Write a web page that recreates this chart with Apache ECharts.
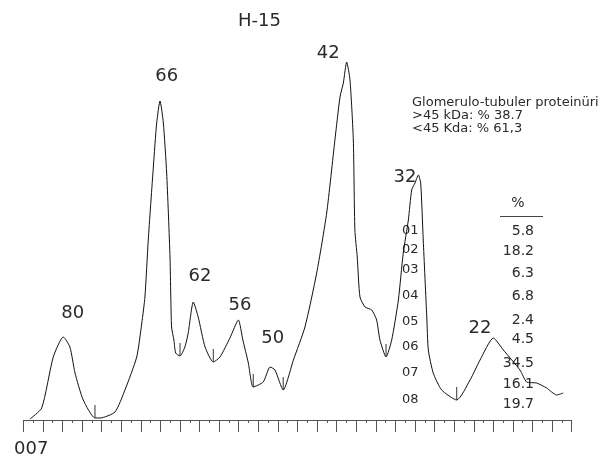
<!DOCTYPE html>
<html>
<head>
<meta charset="utf-8">
<script src="https://cdn.jsdelivr.net/npm/echarts@6/dist/echarts.min.js"></script>
<style>html,body{margin:0;padding:0;background:#fff}#c{width:604px;height:462px}</style>
</head>
<body>
<div id="c"></div>
<script>
// densitometry trace: [position, intensity]
const trace = [
  [0.34,1],[0.94,12],[1.53,63],[2.04,83],[2.38,73],[2.64,47],[3.06,20],[3.66,2],[3.92,2],
  [4.68,8],[5.19,30],[5.79,63],[6.05,97],[6.21,123],[6.38,180],[6.64,253],[6.81,297],[6.98,319],
  [7.15,297],[7.32,247],[7.49,163],[7.57,93],[7.69,80],[7.78,67],[8.00,64],[8.25,73],[8.42,87],
  [8.68,118],[8.93,103],[9.28,73],[9.70,58],[10.04,63],[10.55,82],[10.98,100],[11.21,80],[11.49,57],
  [11.74,33],[12.25,38],[12.60,53],[12.85,50],[13.27,30],[13.79,60],[14.38,93],[14.98,147],[15.49,207],
  [15.91,280],[16.17,323],[16.34,337],[16.51,358],[16.68,340],[16.85,280],[16.93,190],[17.05,163],
  [17.19,123],[17.45,113],[17.79,110],[18.04,100],[18.21,80],[18.52,63],[18.81,80],[19.15,120],
  [19.40,167],[19.66,200],[19.83,230],[20.00,237],[20.17,245],[20.29,237],[20.42,180],[20.60,103],
  [20.68,70],[20.93,47],[21.36,30],[22.13,20],[22.81,40],[23.32,60],[24.00,82],[24.51,70],[25.36,50],
  [25.70,38],[26.21,37],[26.72,32],[27.23,25],[27.57,27]
];
// fraction boundaries (valleys)
const valleys = [[3.66,2],[8.00,64],[9.70,58],[11.74,33],[13.27,30],[18.52,63],[22.13,20]];
// peak labels (kDa) with label anchor
const peakNames = ['80','66','62','56','50','42','32','22'];
const peakAnchors = [[2.52,107],[7.32,344],[9.02,144],[11.06,115],[12.73,82],[15.57,367],[19.49,243],[23.32,92]];
const fractionCodes = ['01','02','03','04','05','06','07','08'];
const fractionPercents = ['5.8','18.2','6.3','6.8','2.4','4.5','34.5','16.1','19.7'];
const infoLines = ['Glomerulo-tubuler proteinüri','>45 kDa: % 38.7','<45 Kda: % 61,3'];
const title = 'H-15';
const startLabel = '007';

// layout (pixel positions of free text)
const codeY = [231,250,270,296,322,347,373,400];
const pctY = [231,251,273,296,320,339,363,384,404];
const infoY = [103,116,129];

const FONT = 'DejaVu Sans';
const TXT = '#2a2a2a';
const graphics = [];
graphics.push({type:'text', left:238, top:12, style:{text:title, font:'18px "'+FONT+'"', fill:TXT}});
graphics.push({type:'text', left:14, top:440, style:{text:startLabel, font:'18px "'+FONT+'"', fill:TXT}});
infoLines.forEach((t,i)=>graphics.push({type:'text', x:412, y:infoY[i], style:{text:t, font:'13px "'+FONT+'"', fill:TXT, verticalAlign:'middle', align:'left'}}));
fractionCodes.forEach((t,i)=>graphics.push({type:'text', x:402, y:codeY[i], style:{text:t, font:'13px "'+FONT+'"', fill:TXT, verticalAlign:'middle', align:'left'}}));
fractionPercents.forEach((t,i)=>graphics.push({type:'text', x:534, y:pctY[i], style:{text:t, font:'14px "'+FONT+'"', fill:TXT, verticalAlign:'middle', align:'right'}}));
graphics.push({type:'text', x:518, y:203, style:{text:'%', font:'14px "'+FONT+'"', fill:TXT, verticalAlign:'middle', align:'center'}});
graphics.push({type:'line', shape:{x1:500, y1:216.5, x2:543, y2:216.5}, style:{stroke:'#444', lineWidth:1}});

const chart = echarts.init(document.getElementById('c'), null, {renderer:'canvas'});
chart.setOption({
  animation:false,
  backgroundColor:'#fff',
  grid:{left:23.3, right:32.3, top:20, bottom:42},
  xAxis:{
    type:'value', min:0, max:28, interval:1,
    axisLine:{show:true, lineStyle:{color:'#555', width:1}},
    axisTick:{show:true, length:12, lineStyle:{color:'#555', width:1}},
    minorTick:{show:true, splitNumber:2, length:3, lineStyle:{color:'#555', width:1}},
    axisLabel:{show:false}, splitLine:{show:false}, minorSplitLine:{show:false}
  },
  yAxis:{type:'value', min:0, max:400, show:false, splitLine:{show:false}},
  series:[
    {type:'line', data:trace, showSymbol:false, smooth:0.2, lineStyle:{color:'#111', width:1}, z:3},
    {type:'custom', data:valleys, z:4,
      renderItem:function(params, api){
        const p = api.coord([api.value(0), api.value(1)]);
        return {type:'line', shape:{x1:p[0], y1:p[1], x2:p[0], y2:p[1]-13}, style:{stroke:'#333', lineWidth:1}};
      }},
    {type:'scatter', symbolSize:0, z:5, itemStyle:{opacity:1},
      data:peakAnchors.map((a,i)=>({value:a, name:peakNames[i]})),
      label:{show:true, position:'inside', formatter:'{b}', fontFamily:FONT, fontSize:18, color:TXT, opacity:1, textBorderWidth:0}}
  ],
  graphic:graphics
});
</script>
</body>
</html>
